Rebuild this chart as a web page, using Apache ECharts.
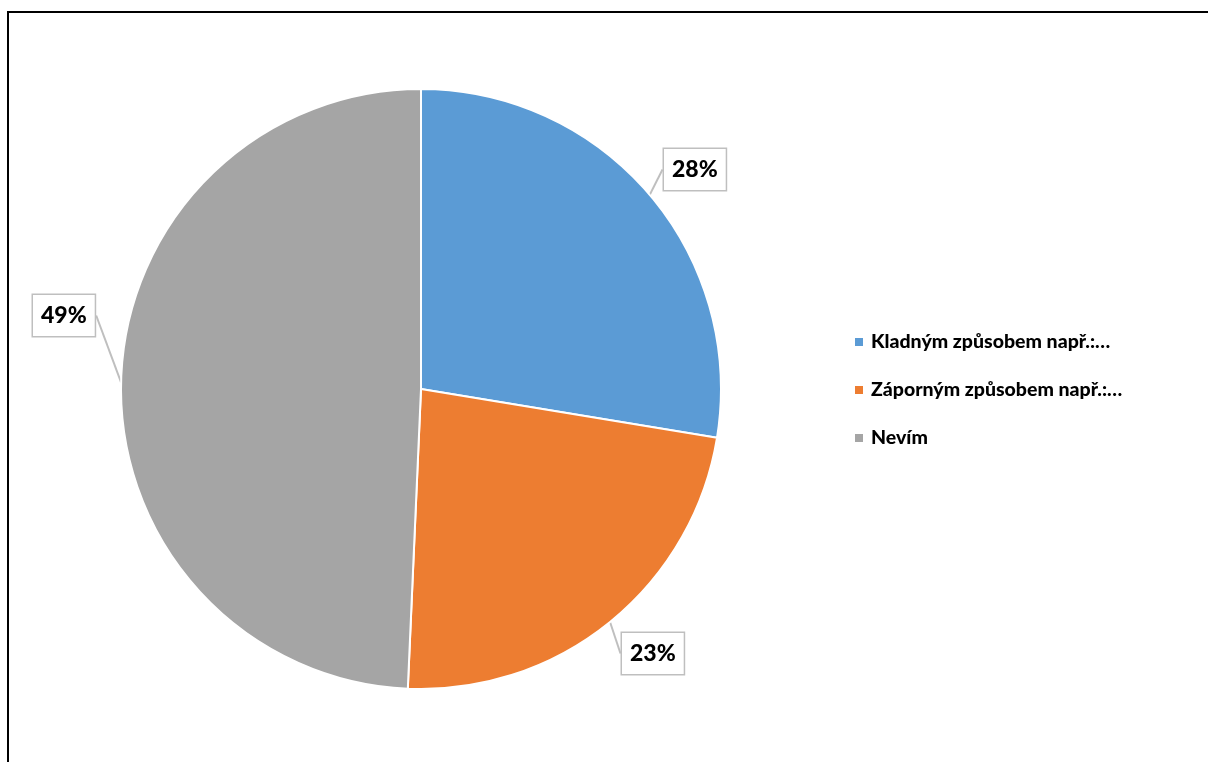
<!DOCTYPE html>
<html>
<head>
<meta charset="utf-8">
<script src="https://cdn.jsdelivr.net/npm/echarts@6/dist/echarts.min.js"></script>
<style>
html,body{margin:0;padding:0;background:#fff;}
#c{width:1208px;height:762px;}
</style>
</head>
<body>
<div id="c"></div>
<script>
const categories = ['Kladným způsobem např.:…', 'Záporným způsobem např.:…', 'Nevím'];
const values = [27.6, 23.1, 49.3];
const colors = ['#5B9BD5', '#ED7D31', '#A5A5A5'];
const labelPos = [[664, 149], [622, 633], [33, 295]];

const chart = echarts.init(document.getElementById('c'));
const FONT = 'Lato, "Open Sans", sans-serif';
chart.setOption({
  animation: false,
  graphic: [{
    type: 'rect',
    shape: { x: 8, y: 12, width: 1300, height: 800 },
    style: { fill: 'none', stroke: '#000', lineWidth: 2 },
    silent: true
  }],
  legend: {
    orient: 'vertical',
    left: 848,
    top: 327,
    itemWidth: 10,
    itemHeight: 10,
    itemGap: 28,
    icon: 'rect',
    textStyle: { fontFamily: FONT, fontWeight: 900, fontSize: 19.5, lineHeight: 20, color: '#000', padding: [0, 0, 0, 2] },
    data: categories
  },
  series: [{
    type: 'pie',
    center: [421, 389],
    radius: 300,
    startAngle: 90,
    clockwise: true,
    itemStyle: { borderColor: '#fff', borderWidth: 2 },
    label: {
      show: true,
      position: 'outside',
      formatter: p => Math.round(p.percent) + '%',
      fontFamily: FONT,
      fontWeight: 900,
      fontSize: 23,
      lineHeight: 23,
      color: '#000',
      backgroundColor: '#fff',
      borderColor: '#BFBFBF',
      borderWidth: 1.5,
      padding: [9, 8, 9, 8]
    },
    labelLine: {
      show: true,
      length: 10,
      length2: 0,
      lineStyle: { color: '#BFBFBF', width: 2 }
    },
    labelLayout: function (params) {
      const p = labelPos[params.dataIndex];
      return { x: p[0], y: p[1], align: 'left', verticalAlign: 'top' };
    },
    data: categories.map((n, i) => ({ name: n, value: values[i], itemStyle: { color: colors[i] } }))
  }]
});
</script>
</body>
</html>
